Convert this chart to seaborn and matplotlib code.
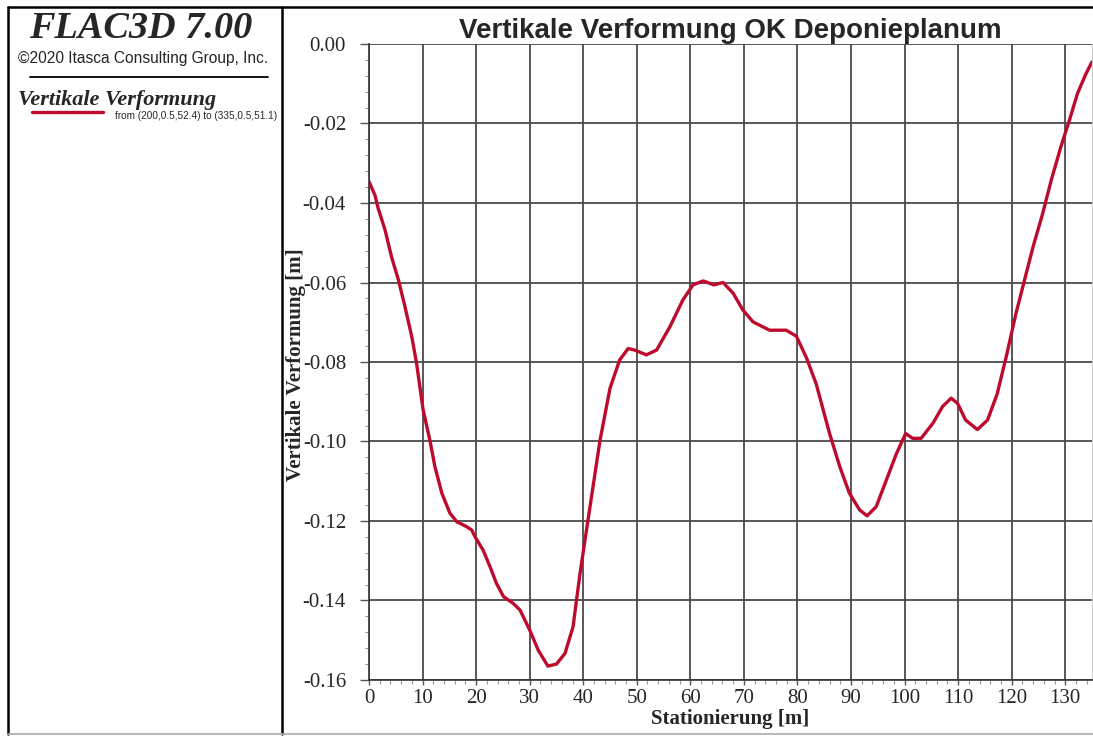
import numpy as np
import pandas as pd
import matplotlib
matplotlib.use("Agg")
import matplotlib.pyplot as plt
from matplotlib.lines import Line2D
from matplotlib.ticker import MultipleLocator, FormatStrFormatter
import seaborn as sns

# Stationierung [m] and vertical deformation [m]
station = [0, 1.1, 1.7, 3.0, 4.2, 5.5, 6.7, 8.0, 8.9, 10.1, 11.4, 12.3, 13.6, 15.1,
           16.4, 18.2, 19.2, 19.8, 21.3, 22.6, 23.8, 25.1, 26.9, 28.2, 30.0, 31.6,
           33.4, 35.0, 36.6, 38.1, 39.4, 41.2, 43.1, 45.0, 46.8, 48.4, 49.6, 51.8,
           53.7, 56.2, 58.6, 60.5, 62.4, 64.4, 66.1, 68.0, 69.8, 71.7, 74.8, 77.9,
           79.8, 81.7, 83.5, 86.0, 87.9, 89.7, 91.6, 93.0, 94.7, 96.6, 98.5, 100.2,
           101.5, 103.1, 105.3, 107.1, 108.7, 109.9, 111.4, 113.6, 115.5, 117.3,
           119.1, 120.8, 122.4, 124.0, 125.8, 127.4, 129.2, 130.8, 132.3, 133.9, 135.0]
verformung = [-0.0346, -0.0380, -0.0413, -0.0468, -0.0535, -0.0594, -0.0660, -0.0737,
              -0.0805, -0.0920, -0.0999, -0.1063, -0.1130, -0.1180, -0.1202, -0.1214,
              -0.1223, -0.1240, -0.1273, -0.1315, -0.1357, -0.1390, -0.1407, -0.1424,
              -0.1474, -0.1525, -0.1565, -0.1560, -0.1533, -0.1466, -0.1332, -0.1170,
              -0.1000, -0.0866, -0.0795, -0.0766, -0.0770, -0.0782, -0.0770, -0.0711,
              -0.0644, -0.0606, -0.0596, -0.0606, -0.0600, -0.0627, -0.0669, -0.0699,
              -0.0720, -0.0720, -0.0735, -0.0790, -0.0855, -0.0980, -0.1063, -0.1130,
              -0.1172, -0.1187, -0.1164, -0.1097, -0.1030, -0.0980, -0.0992, -0.0992,
              -0.0954, -0.0912, -0.0891, -0.0904, -0.0946, -0.0970, -0.0946, -0.0880,
              -0.0780, -0.0678, -0.0594, -0.0510, -0.0426, -0.0342, -0.0258, -0.0191,
              -0.0124, -0.0074, -0.0045]

df = pd.DataFrame({"Stationierung": station, "Verformung": verformung})

sns.set_style("white")
plt.rcParams["axes.unicode_minus"] = False
plt.rcParams["font.family"] = ["Liberation Serif", "DejaVu Serif"]

fig = plt.figure(figsize=(10.93, 7.36), dpi=100)
ax = fig.add_axes([369 / 1093, 1 - 680 / 736, (1092 - 369) / 1093, (680 - 44) / 736])

sns.lineplot(data=df, x="Stationierung", y="Verformung", ax=ax,
             color="#BE0A2D", linewidth=2.4, sort=False)

ax.set_xlim(0, 135)
ax.set_ylim(-0.16, 0.0)
ax.xaxis.set_major_locator(MultipleLocator(10))
ax.xaxis.set_minor_locator(MultipleLocator(2))
ax.yaxis.set_major_locator(MultipleLocator(0.02))
ax.yaxis.set_minor_locator(MultipleLocator(0.004))
ax.yaxis.set_major_formatter(FormatStrFormatter("%.2f"))
ax.grid(True, which="major", color="#4a4a4a", linewidth=1.3)
ax.tick_params(axis="x", which="major", direction="out", length=3.5, width=1,
               color="#555555", labelsize=15, pad=3, bottom=True)
ax.tick_params(axis="y", which="major", direction="out", length=6.5, width=1,
               color="#555555", labelsize=15, pad=10, left=True)
ax.tick_params(which="minor", direction="out", length=3, width=0.8, color="#999999",
               bottom=True, left=True)
for side in ["left", "bottom"]:
    ax.spines[side].set_color("#333333")
    ax.spines[side].set_linewidth(1.2)
ax.spines["top"].set_visible(False)
ax.spines["right"].set_color("#cccccc")

ax.set_xlabel("Stationierung [m]", fontsize=15, fontweight="bold")
ax.xaxis.set_label_coords((730 - 369) / (1092 - 369), -(719 - 680) / 636, transform=ax.transAxes)
ax.xaxis.label.set_va("center")
ax.set_ylabel("Vertikale Verformung [m]", fontsize=15, fontweight="bold")
ax.yaxis.set_label_coords(-(369 - 296) / (1092 - 369), (680 - 365) / 636, transform=ax.transAxes)
ax.yaxis.label.set_va("center")
fig.text(730 / 1093, 1 - 31 / 736, "Vertikale Verformung OK Deponieplanum",
         ha="center", va="center", fontsize=20, fontweight="bold",
         family=["Liberation Sans", "DejaVu Sans"])

# frame and info panel
fig.add_artist(Line2D([8 / 1093, 1], [1 - 7 / 736] * 2, color="black", lw=1.8))
fig.add_artist(Line2D([8 / 1093] * 2, [1 - 7 / 736, 1 - 734 / 736], color="black", lw=1.8))
fig.add_artist(Line2D([282 / 1093] * 2, [1 - 7 / 736, 1 - 734 / 736], color="black", lw=1.8))
fig.add_artist(Line2D([8 / 1093, 1], [1 - 734 / 736] * 2, color="#aaaaaa", lw=1.2))

fig.text(141 / 1093, 1 - 29 / 736, "FLAC3D 7.00", ha="center", va="center",
         fontsize=27.5, fontweight="bold", style="italic")
fig.text(143 / 1093, 1 - 58 / 736, "\u00a92020 Itasca Consulting Group, Inc.",
         ha="center", va="center", fontsize=11.2, family=["Liberation Sans", "DejaVu Sans"])
fig.add_artist(Line2D([30 / 1093, 268 / 1093], [1 - 77 / 736] * 2, color="black", lw=1.3))
fig.text(18 / 1093, 1 - 100 / 736, "Vertikale Verformung", ha="left", va="center",
         fontsize=16, fontweight="bold", style="italic")
fig.add_artist(Line2D([32 / 1093, 103 / 1093], [1 - 112 / 736] * 2, color="#BE0A2D", lw=2.4))
fig.text(277 / 1093, 1 - 116 / 736, "from (200,0.5,52.4) to (335,0.5,51.1)",
         ha="right", va="center", fontsize=7.2, family=["Liberation Sans", "DejaVu Sans"])

fig.savefig("out.png", dpi=100)
